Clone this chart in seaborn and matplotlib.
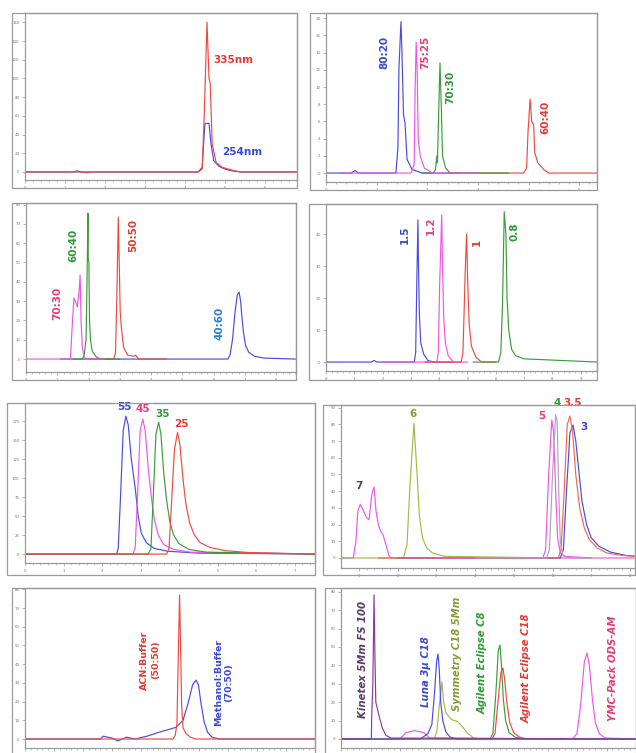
import matplotlib
matplotlib.use("Agg")
import matplotlib.pyplot as plt
import seaborn as sns
import pandas as pd
import numpy as np
from matplotlib.patches import Rectangle

W, H = 636, 753
sns.set_theme(style="white")
plt.rcParams['font.family'] = ['DejaVu Sans']

# ---------------- Panel 1: detection wavelength ----------------
P1_335_T = [0, 1.25, 1.30, 1.38, 1.55, 1.65, 4.33, 4.43, 4.48, 4.55, 4.60, 4.63, 4.68, 4.78, 4.93, 5.18, 5.38, 6.8]
P1_335_A = [0, 0, 1.5, 0, -0.8, 0, 0, 3, 60, 160, 100, 95, 30, 10, 5, 2, 0, 0]
P1_254_T = [0, 4.33, 4.43, 4.48, 4.50, 4.60, 4.65, 4.72, 4.85, 5.0, 5.2, 5.4, 6.8]
P1_254_A = [0, 0, 5, 40, 52, 52, 30, 12, 6, 3, 1, 0, 0]

# ---------------- Panel 2: methanol:buffer ratios ----------------
P2_8020_T = [0, 0.50, 0.57, 0.64, 1.38, 1.42, 1.44, 1.48, 1.50, 1.53, 1.56, 1.60, 1.70, 1.90, 2.6]
P2_8020_A = [0, 0, 0.15, 0, 0, 1.5, 6.1, 8.8, 7.0, 3.4, 2.9, 0.8, 0.2, 0, 0]
P2_7525_T = [0.3, 1.68, 1.74, 1.76, 1.78, 1.80, 1.82, 1.86, 1.94, 2.10, 3.0]
P2_7525_A = [0, 0, 0.5, 5, 7.6, 6, 2.0, 1.0, 0.3, 0, 0]
P2_7030_T = [1.9, 2.12, 2.16, 2.19, 2.20, 2.22, 2.25, 2.28, 2.30, 2.36, 2.45, 3.6]
P2_7030_A = [0, 0, 0.2, 1.0, 0.6, 3, 6.4, 3.5, 1.0, 0.3, 0, 0]
P2_6040_T = [2.4, 3.90, 3.96, 3.99, 4.03, 4.06, 4.10, 4.12, 4.18, 4.30, 4.40, 5.35]
P2_6040_A = [0, 0, 0.3, 2.5, 4.3, 3.0, 2.8, 1.2, 0.6, 0.2, 0, 0]

# ---------------- Panel 3: acetonitrile:buffer ratios ----------------
P3_7030_T = [0, 1.42, 1.47, 1.53, 1.58, 1.64, 1.70, 1.73, 1.76, 1.80, 1.86, 1.95, 2.5]
P3_7030_A = [0, 0, 1.5, 3.16, 3.0, 2.7, 3.6, 4.35, 2.0, 0.6, 0.1, 0, 0]
P3_6040_T = [1.5, 1.80, 1.86, 1.92, 1.95, 1.98, 1.99, 2.01, 2.03, 2.06, 2.12, 2.25, 2.40, 3.0]
P3_6040_A = [0, 0, 0.2, 1.0, 4.0, 7.55, 5.2, 5.0, 2.0, 1.0, 0.4, 0.1, 0, 0]
P3_5050_T = [2.0, 2.80, 2.86, 2.90, 2.95, 2.98, 3.01, 3.05, 3.12, 3.25, 3.45, 3.50, 3.60, 4.5]
P3_5050_A = [0, 0, 0.3, 3, 7.35, 5, 2.5, 1.6, 0.6, 0.2, 0.15, 0.2, 0, 0]
P3_4060_T = [1.1, 6.45, 6.52, 6.60, 6.68, 6.75, 6.81, 6.86, 6.90, 6.95, 7.02, 7.12, 7.30, 7.60, 8.63]
P3_4060_A = [0, 0, 0.2, 1.0, 2.4, 3.3, 3.47, 3.0, 2.2, 1.4, 0.7, 0.35, 0.15, 0.05, 0]

# ---------------- Panel 4: flow rate (mL/min) ----------------
P4_15_T = [0, 1.6, 1.7, 1.8, 3.12, 3.17, 3.21, 3.25, 3.27, 3.30, 3.35, 3.45, 3.60, 3.80, 4.5]
P4_15_A = [0, 0, 0.05, 0, 0, 0.3, 2.5, 4.44, 3.0, 1.5, 0.6, 0.25, 0.05, 0, 0]
P4_12_T = [2.0, 3.92, 3.97, 4.02, 4.09, 4.12, 4.16, 4.22, 4.32, 4.50, 5.0]
P4_12_A = [0, 0, 0.3, 2.5, 4.6, 3.0, 1.4, 0.6, 0.2, 0, 0]
P4_10_T = [3.5, 4.78, 4.84, 4.88, 4.92, 4.97, 5.01, 5.06, 5.14, 5.30, 5.50, 6.0]
P4_10_A = [0, 0, 0.3, 1.5, 2.8, 4.0, 2.5, 1.2, 0.5, 0.15, 0, 0]
P4_08_T = [5.2, 6.10, 6.18, 6.24, 6.30, 6.36, 6.40, 6.46, 6.56, 6.70, 7.00, 8.30, 9.58]
P4_08_A = [0, 0, 0.3, 1.8, 4.7, 4.0, 2.0, 1.0, 0.4, 0.2, 0.1, 0.05, 0]

# ---------------- Panel 5: column temperature ----------------
P5_55_T = [0, 2.38, 2.42, 2.48, 2.55, 2.62, 2.68, 2.76, 2.86, 2.94, 3.02, 3.15, 3.35, 3.70, 4.50, 7.53]
P5_55_A = [0, 0, 0.3, 3.0, 6.5, 7.26, 6.8, 5.0, 3.5, 2.0, 1.1, 0.6, 0.3, 0.15, 0.05, 0]
P5_45_T = [0, 2.80, 2.86, 2.92, 2.99, 3.06, 3.12, 3.20, 3.28, 3.36, 3.46, 3.60, 3.85, 4.30, 7.53]
P5_45_A = [0, 0, 0.3, 3.0, 6.5, 7.1, 6.5, 4.5, 3.0, 1.8, 1.0, 0.5, 0.25, 0.1, 0]
P5_35_T = [0, 3.20, 3.27, 3.33, 3.40, 3.47, 3.53, 3.60, 3.68, 3.76, 3.86, 4.00, 4.25, 4.70, 7.53]
P5_35_A = [0, 0, 0.3, 3.0, 6.3, 6.95, 6.3, 4.3, 2.8, 1.7, 1.0, 0.55, 0.25, 0.1, 0]
P5_25_T = [0, 3.68, 3.74, 3.80, 3.88, 3.96, 4.02, 4.10, 4.18, 4.28, 4.40, 4.55, 4.80, 5.20, 5.80, 7.53]
P5_25_A = [0, 0, 0.3, 2.5, 5.5, 6.4, 5.8, 4.0, 2.6, 1.6, 1.0, 0.6, 0.35, 0.18, 0.08, 0]

# ---------------- Panel 6: buffer pH ----------------
P6_7_T = [0.535, 0.85, 0.92, 0.97, 1.03, 1.10, 1.20, 1.26, 1.33, 1.39, 1.44, 1.50, 1.56, 1.62, 1.67, 1.72, 1.78, 1.85, 8.13]
P6_7_A = [0, 0, 1.0, 2.8, 3.2, 2.9, 2.4, 2.3, 3.8, 4.25, 2.8, 2.0, 1.6, 1.4, 1.0, 0.6, 0.1, 0, 0]
P6_6_T = [0.535, 2.15, 2.24, 2.32, 2.42, 2.50, 2.56, 2.64, 2.75, 2.90, 3.20, 6.0]
P6_6_A = [0, 0, 0.8, 4.5, 8.08, 5.0, 2.5, 1.2, 0.6, 0.3, 0.1, 0]
P6_5_T = [3.0, 5.75, 5.82, 5.90, 5.98, 6.03, 6.08, 6.13, 6.20, 6.30, 7.0]
P6_5_A = [0, 0, 0.5, 5.0, 8.26, 7.5, 4.0, 1.2, 0.3, 0.1, 0]
P6_4_T = [4.0, 5.85, 5.92, 6.00, 6.08, 6.12, 6.16, 6.20, 6.26, 6.40, 7.0]
P6_4_A = [0, 0, 0.5, 5.0, 8.56, 8.2, 4.0, 1.0, 0.2, 0, 0]
P6_35_T = [1.5, 6.15, 6.22, 6.30, 6.38, 6.45, 6.52, 6.60, 6.70, 6.82, 6.95, 7.15, 7.40, 7.80, 8.13]
P6_35_A = [0, 0, 0.5, 4.0, 8.0, 8.5, 7.5, 5.0, 3.0, 1.8, 1.1, 0.6, 0.3, 0.15, 0.1]
P6_3_T = [2.0, 6.20, 6.28, 6.36, 6.45, 6.53, 6.60, 6.68, 6.76, 6.88, 7.00, 7.20, 7.50, 7.90, 8.13]
P6_3_A = [0, 0, 0.5, 4.0, 7.5, 7.96, 7.0, 5.2, 3.4, 2.0, 1.2, 0.7, 0.35, 0.15, 0.1]

# ---------------- Panel 7: organic modifier ----------------
P7_ACN_T = [0, 5.10, 5.18, 5.24, 5.28, 5.33, 5.37, 5.40, 5.45, 5.55, 5.70, 5.90, 10]
P7_ACN_A = [0, 0, 0.2, 0.8, 4.0, 7.7, 4.5, 1.8, 0.6, 0.3, 0.1, 0, 0]
P7_MEOH_T = [0, 2.6, 2.7, 3.0, 3.2, 3.5, 3.8, 4.2, 4.6, 5.2, 5.45, 5.62, 5.78, 5.90, 5.98, 6.08, 6.18, 6.30, 6.45, 6.70, 10]
P7_MEOH_A = [0, 0, 0.15, 0.05, -0.1, 0.1, 0.0, 0.15, 0.35, 0.62, 1.0, 1.9, 2.9, 3.15, 2.9, 1.8, 0.9, 0.35, 0.1, 0, 0]

# ---------------- Panel 8: stationary phase ----------------
P8_KIN_T = [0, 1.03, 1.04, 1.08, 1.12, 1.15, 1.18, 1.24, 1.30, 1.40, 1.52, 1.70, 10]
P8_KIN_A = [0, 0, 1.2, 3.0, 7.83, 4.5, 2.0, 1.6, 1.2, 0.6, 0.2, 0.05, 0]
P8_LUNA_T = [0, 2.70, 2.95, 3.08, 3.17, 3.24, 3.29, 3.33, 3.38, 3.45, 3.55, 3.70, 3.90, 10]
P8_LUNA_A = [0, 0, 0.3, 0.8, 2.5, 4.2, 4.62, 3.8, 2.0, 1.0, 0.4, 0.1, 0, 0]
P8_SYM_T = [0, 3.15, 3.25, 3.33, 3.42, 3.48, 3.56, 3.75, 3.95, 4.10, 4.30, 4.50, 4.70, 10]
P8_SYM_A = [0, 0, 0.4, 1.8, 3.1, 2.0, 1.4, 1.05, 0.95, 0.7, 0.3, 0.05, 0, 0]
P8_C8_T = [0, 5.05, 5.15, 5.25, 5.33, 5.39, 5.44, 5.50, 5.58, 5.70, 5.90, 6.20, 10]
P8_C8_A = [0, 0, 0.3, 2.5, 4.8, 5.1, 4.0, 2.2, 1.0, 0.35, 0.1, 0, 0]
P8_C18_T = [0, 5.12, 5.22, 5.32, 5.42, 5.49, 5.55, 5.62, 5.72, 5.85, 6.05, 6.30, 10]
P8_C18_A = [0, 0, 0.3, 2.0, 3.6, 3.85, 3.2, 2.0, 0.9, 0.35, 0.1, 0, 0]
P8_YMC_T = [0, 2.0, 2.2, 2.5, 2.8, 3.0, 7.85, 8.00, 8.12, 8.25, 8.34, 8.42, 8.52, 8.62, 8.75, 8.95, 10]
P8_YMC_A = [0, 0, 0.35, 0.45, 0.35, 0.05, 0, 0.3, 1.8, 4.2, 4.67, 4.0, 2.2, 0.9, 0.3, 0.05, 0]

# colours
RED = '#ee4a42'
BLUE = '#4b4be0'
MAG = '#f055e8'
GREEN = '#3c9c3c'
OLIVE = '#a8b845'
PURPLE = '#8a3a9a'
ORANGE = '#f26a48'
PINKRED = '#ea3a78'
LRED = '#e63a32'
LBLUE = '#3a48d8'
STEEL = '#3080d0'
LGREEN = '#2f9a36'
LOLIVE = '#8a9a30'
DPURP = '#5a3a6a'

GRAY = '#9a9a9a'

fig = plt.figure(figsize=(W / 100, H / 100), dpi=100)
fig.patch.set_facecolor('white')


def make_panel(ax_px, frame_px, xlim, ylim, xmajor, yticks, yfmt, traces, xlabels=True):
    l, t, r, b = ax_px
    ax = fig.add_axes([l / W, 1 - b / H, (r - l) / W, (b - t) / H])
    fl, ft, fr, fb = frame_px
    fig.patches.append(Rectangle((fl / W, 1 - fb / H), (fr - fl) / W, (fb - ft) / H,
                                 transform=fig.transFigure, fill=False,
                                 edgecolor=GRAY, lw=0.9, zorder=0))
    rows = []
    pal = {}
    order = []
    for name, (xs, ys, col) in traces.items():
        for xv, yv in zip(xs, ys):
            rows.append({'t': xv, 'a': yv, 's': name})
        pal[name] = col
        order.append(name)
    df = pd.DataFrame(rows)
    sns.lineplot(data=df, x='t', y='a', hue='s', hue_order=order, palette=pal,
                 estimator=None, sort=False, legend=False, lw=0.85, ax=ax)
    ax.set_xlim(*xlim)
    ax.set_ylim(*ylim)
    ax.set_xlabel('')
    ax.set_ylabel('')
    xt = np.arange(np.ceil(xlim[0]), xlim[1] + 1e-9, xmajor)
    ax.set_xticks(xt)
    if xlabels:
        ax.set_xticklabels([f'{v:g}' for v in xt])
    else:
        ax.set_xticklabels([])
    ax.set_xticks(np.arange(np.ceil(xlim[0]), xlim[1], xmajor / 5), minor=True)
    ax.set_yticks(yticks)
    ax.set_yticklabels([yfmt(v) for v in yticks])
    ax.tick_params(axis='both', which='major', length=2.5, width=0.5, color=GRAY,
                   labelsize=2.8, labelcolor='#777777', pad=1.5, bottom=True, left=True)
    ax.tick_params(axis='x', which='minor', length=1.5, width=0.4, color=GRAY, bottom=True)
    for sp in ax.spines.values():
        sp.set_color(GRAY)
        sp.set_linewidth(0.9)
        sp.set_visible(True)
    ax.patch.set_alpha(0)
    return ax


def lab(ax, x, y, s, c, size=7, rot=0, weight='bold', style='normal', box=False, ha='center', va='center'):
    kw = dict(color=c, fontsize=size, rotation=rot, fontweight=weight, fontstyle=style,
              ha=ha, va=va, clip_on=False, zorder=5, multialignment='center')
    if box:
        kw['bbox'] = dict(boxstyle='square,pad=0.25', fc='white', ec='none')
    ax.text(x, y, s, **kw)


# Panel 1
ax1 = make_panel((25, 13, 297, 180), (12, 13, 297, 188), (0, 6.8), (-8.6, 170), 1,
                 list(range(0, 161, 20)), lambda v: f'{v:g}',
                 {'254nm': (P1_254_T, P1_254_A, BLUE), '335nm': (P1_335_T, P1_335_A, RED)})
lab(ax1, 4.72, 120, '335nm', LRED, size=7.5, ha='left')
lab(ax1, 4.93, 21, '254nm', LBLUE, size=7.5, ha='left')

# Panel 2
ax2 = make_panel((326, 13, 597, 182), (310, 13, 597, 190), (0, 5.35), (-0.52, 9.3), 1,
                 list(range(0, 10)), lambda v: f'{v*2:g}',
                 {'80:20': (P2_8020_T, P2_8020_A, BLUE), '60:40': (P2_6040_T, P2_6040_A, RED),
                  '70:30': (P2_7030_T, P2_7030_A, GREEN), '75:25': (P2_7525_T, P2_7525_A, MAG)})
lab(ax2, 1.16, 7.03, '80:20', LBLUE, size=7.5, rot=90)
lab(ax2, 1.95, 7.03, '75:25', PINKRED, size=7.5, rot=90)
lab(ax2, 2.45, 5.0, '70:30', LGREEN, size=7.5, rot=90)
lab(ax2, 4.34, 3.26, '60:40', LRED, size=7.5, rot=90)

# Panel 3
ax3 = make_panel((26, 203, 296, 372), (12, 203, 296, 380), (0, 8.63), (-0.67, 8.08), 1,
                 list(range(0, 9)), lambda v: f'{v*10:g}',
                 {'40:60': (P3_4060_T, P3_4060_A, BLUE), '50:50': (P3_5050_T, P3_5050_A, RED),
                  '60:40': (P3_6040_T, P3_6040_A, GREEN), '70:30': (P3_7030_T, P3_7030_A, MAG)})
lab(ax3, 0.99, 2.9, '70:30', PINKRED, size=7.5, rot=90)
lab(ax3, 1.53, 5.9, '60:40', LGREEN, size=7.5, rot=90)
lab(ax3, 3.42, 6.4, '50:50', LRED, size=7.5, rot=90)
lab(ax3, 6.17, 1.87, '40:60', STEEL, size=7.5, rot=90)

# Panel 4
ax4 = make_panel((326, 204, 597, 371), (309, 204, 597, 380), (0, 9.58), (-0.28, 4.94), 1,
                 list(range(0, 5)), lambda v: f'{v*10:g}',
                 {'1.5': (P4_15_T, P4_15_A, BLUE), '1.2': (P4_12_T, P4_12_A, MAG),
                  '1': (P4_10_T, P4_10_A, RED), '0.8': (P4_08_T, P4_08_A, GREEN)})
lab(ax4, 2.79, 3.97, '1.5', LBLUE, size=7.5, rot=90)
lab(ax4, 3.71, 4.25, '1.2', PINKRED, size=7.5, rot=90)
lab(ax4, 5.34, 3.75, '1', LRED, size=7.5, rot=90)
lab(ax4, 6.68, 4.06, '0.8', LGREEN, size=7.5, rot=90)

# Panel 5
ax5 = make_panel((25, 403, 315, 563), (7, 403, 315, 575), (0, 7.53), (-0.47, 7.95), 1,
                 list(range(0, 8)), lambda v: f'{v*25:g}',
                 {'55': (P5_55_T, P5_55_A, BLUE), '45': (P5_45_T, P5_45_A, MAG),
                  '35': (P5_35_T, P5_35_A, GREEN), '25': (P5_25_T, P5_25_A, RED)})
lab(ax5, 2.57, 7.74, '55', LBLUE, size=7.5, box=True)
lab(ax5, 3.06, 7.63, '45', PINKRED, size=7.5, box=True)
lab(ax5, 3.56, 7.37, '35', LGREEN, size=7.5, box=True)
lab(ax5, 4.05, 6.84, '25', LRED, size=7.5, box=True)

# Panel 6
ax6 = make_panel((341, 405, 635, 568), (323, 405, 635, 575), (0.535, 8.13), (-0.6, 9.16), 1,
                 list(range(0, 10)), lambda v: f'{v*10:g}',
                 {'7': (P6_7_T, P6_7_A, MAG), '6': (P6_6_T, P6_6_A, OLIVE),
                  '3': (P6_3_T, P6_3_A, BLUE), '3.5': (P6_35_T, P6_35_A, ORANGE),
                  '5': (P6_5_T, P6_5_A, MAG), '4': (P6_4_T, P6_4_A, '#b0a0c0')})
lab(ax6, 1.0, 4.31, '7', DPURP, size=7.5)
lab(ax6, 2.40, 8.62, '6', LOLIVE, size=7.5, box=True)
lab(ax6, 5.73, 8.5, '5', PINKRED, size=7.5)
lab(ax6, 6.12, 9.3, '4', LGREEN, size=7.5, box=True)
lab(ax6, 6.52, 9.25, '3.5', LRED, size=7.5, box=True)
lab(ax6, 6.80, 7.84, '3', LBLUE, size=7.5)

# Panel 7
ax7 = make_panel((25, 588, 315, 748), (12, 588, 315, 760), (0, 10), (-0.48, 8.07), 1,
                 list(range(0, 9)), lambda v: f'{v*10:g}',
                 {'MeOH': (P7_MEOH_T, P7_MEOH_A, BLUE), 'ACN': (P7_ACN_T, P7_ACN_A, RED)},
                 xlabels=False)
lab(ax7, 4.31, 4.22, 'ACN:Buffer\n(50:50)', LRED, size=6.8, rot=90)
lab(ax7, 6.85, 3.0, 'Methanol:Buffer\n(70:50)', LBLUE, size=6.8, rot=90)

# Panel 8
ax8 = make_panel((341, 588, 636, 748), (325, 588, 636, 760), (0, 10), (-0.49, 8.2), 1,
                 list(range(0, 9)), lambda v: f'{v*10:g}',
                 {'YMC': (P8_YMC_T, P8_YMC_A, MAG), 'C18': (P8_C18_T, P8_C18_A, RED),
                  'C8': (P8_C8_T, P8_C8_A, GREEN), 'SYM': (P8_SYM_T, P8_SYM_A, OLIVE),
                  'LUNA': (P8_LUNA_T, P8_LUNA_A, BLUE), 'KIN': (P8_KIN_T, P8_KIN_A, PURPLE)},
                 xlabels=False)
lab(ax8, 0.75, 4.29, 'Kinetex 5Mm FS 100', DPURP, size=7.3, rot=90, style='italic')
lab(ax8, 2.88, 3.64, 'Luna 3µ C18', LBLUE, size=7.3, rot=90, style='italic')
lab(ax8, 3.93, 4.62, 'Symmetry C18 5Mm', LOLIVE, size=7.3, rot=90, style='italic')
lab(ax8, 4.81, 4.13, 'Agilent Eclipse C8', LGREEN, size=7.3, rot=90, style='italic')
lab(ax8, 6.31, 3.86, 'Agilent Eclipse C18', LRED, size=7.3, rot=90, style='italic')
lab(ax8, 9.22, 3.86, 'YMC-Pack ODS-AM', PINKRED, size=7.3, rot=90, style='italic')

fig.savefig('out.png', dpi=100, facecolor='white')
